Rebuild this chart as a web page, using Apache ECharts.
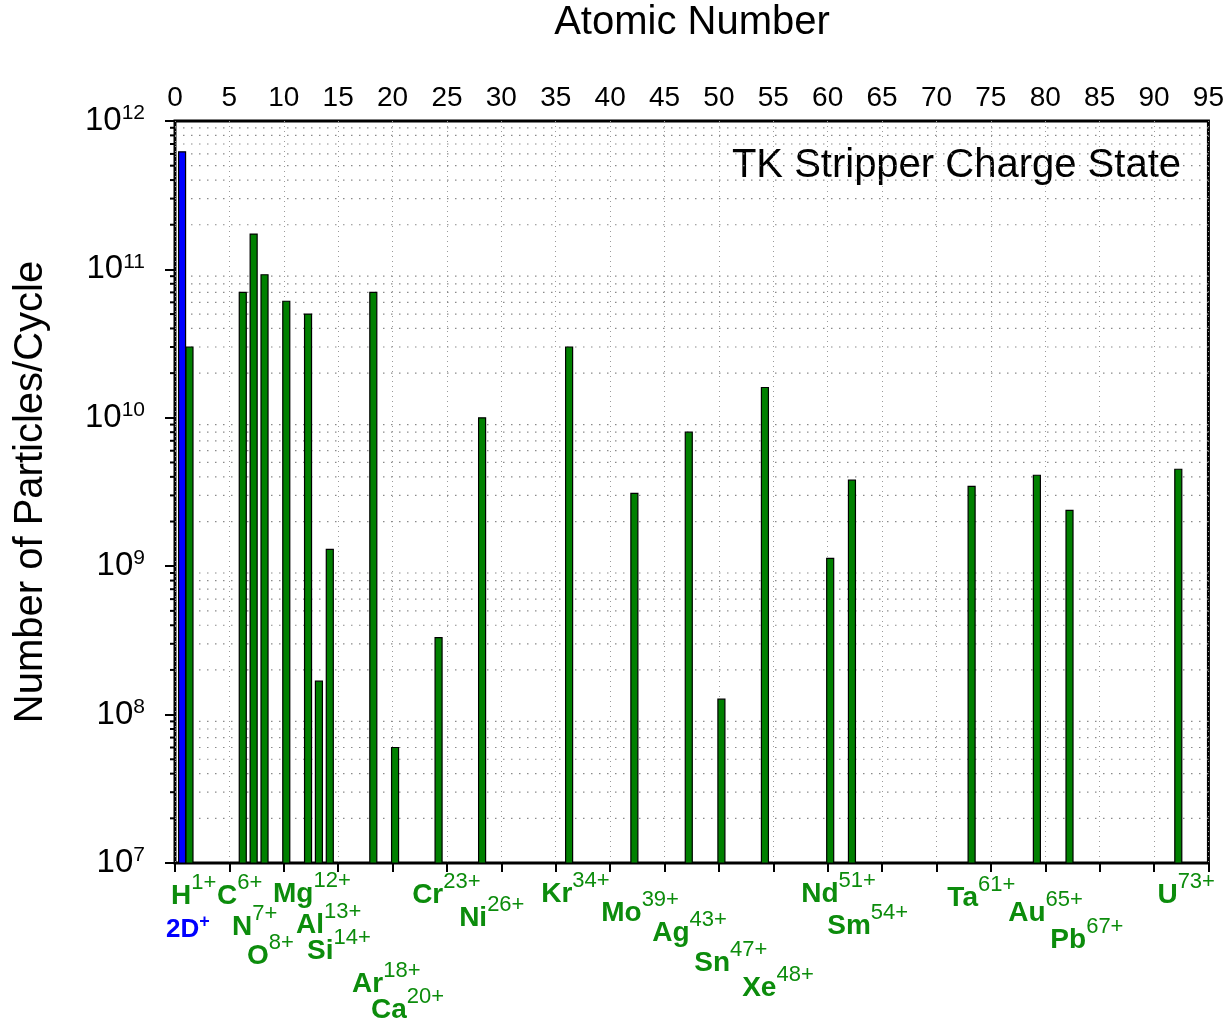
<!DOCTYPE html>
<html>
<head>
<meta charset="utf-8">
<script src="https://cdn.jsdelivr.net/npm/echarts@6/dist/echarts.min.js"></script>
<style>
  html, body { margin: 0; padding: 0; background: #fff; }
  #chart { width: 1227px; height: 1022px; }
</style>
</head>
<body>
<div id="chart"></div>
<script>
// Beam intensities (particles per cycle) after the TK stripper, by atomic number
const deuteronZ = [1];
const deuteronCount = [6.2e11];
const protonZ = [1];
const protonCount = [3.0e10];
const ionZ = [6, 7, 8, 10, 12, 13, 14, 18, 20, 24, 28, 36, 42, 47, 50, 54, 60, 62, 73, 79, 82, 92];
const ionCount = [7.0e10, 1.73e11, 9.2e10, 6.1e10, 5.0e10, 1.68e8, 1.3e9, 7.0e10, 6.0e7, 3.3e8,
                  1.0e10, 3.0e10, 3.1e9, 8.0e9, 1.27e8, 1.6e10, 1.13e9, 3.8e9, 3.45e9, 4.1e9, 2.38e9, 4.5e9];

// Ion species and stripped charge states shown under the axis
const labelSymbols = ['H', '2D', 'C', 'N', 'O', 'Mg', 'Al', 'Si', 'Ar', 'Ca', 'Cr', 'Ni', 'Kr',
                      'Mo', 'Ag', 'Sn', 'Xe', 'Nd', 'Sm', 'Ta', 'Au', 'Pb', 'U'];
const labelCharges = ['1+', '+', '6+', '7+', '8+', '12+', '13+', '14+', '18+', '20+', '23+', '26+', '34+',
                      '39+', '43+', '47+', '48+', '51+', '54+', '61+', '65+', '67+', '73+'];
// Label layout: left edge in atomic-number units, text row in pixels
const labelAnchorZ = [-0.37, -0.83, 3.86, 5.24, 6.62, 9.01, 11.13, 12.14, 16.28, 18.02, 21.8, 26.12, 33.66,
                      39.18, 43.87, 47.73, 52.14, 57.57, 59.96, 71.0, 76.6, 80.47, 90.31];
const labelRowY = [896, 930, 896, 927, 956, 894, 925, 951, 984, 1010, 895, 918, 894,
                   913, 933, 963, 988, 894, 926, 898, 913, 940, 895];

// Axis settings
const zMin = 0, zMax = 95, zStep = 5;
const countMin = 1e7, countMax = 1e12;
const minorCounts = [];
for (let e = 7; e < 12; e++) {
  for (let m = 2; m <= 9; m++) minorCounts.push(m * Math.pow(10, e));
}

const FONT = '"Liberation Sans", Arial, Helvetica, sans-serif';
const GREEN = '#008000';
const LABEL_GREEN = '#0c8c0c';
const BLUE = '#0000ff';

function barRenderer(fill, shiftPx) {
  return function (params, api) {
    const z = api.value(0), n = api.value(1);
    const top = api.coord([z, n]);
    const base = api.coord([z, countMin]);
    return {
      type: 'rect',
      shape: { x: top[0] + shiftPx - 3.5, y: top[1], width: 7, height: base[1] - top[1] },
      style: { fill: fill, stroke: '#000', lineWidth: 1.2 }
    };
  };
}

const chart = echarts.init(document.getElementById('chart'), null, { renderer: 'canvas' });

chart.setOption({
  animation: false,
  backgroundColor: '#fff',
  grid: {
    left: 175, right: 18, top: 121, bottom: 159,
    show: true, borderColor: '#000', borderWidth: 3, backgroundColor: 'transparent'
  },
  xAxis: [
    {
      type: 'value', position: 'bottom', min: zMin, max: zMax, interval: zStep,
      axisLine: { show: false },
      axisTick: { show: true, inside: false, length: 9, lineStyle: { color: '#000', width: 2 } },
      axisLabel: { show: false },
      splitLine: { show: true, lineStyle: { color: '#9a9a9a', width: 1, type: [1, 4] } }
    },
    {
      type: 'value', position: 'top', min: zMin, max: zMax, interval: zStep,
      axisLine: { show: false },
      axisTick: { show: false },
      axisLabel: { show: true, fontFamily: FONT, fontSize: 28, color: '#000', margin: 9 },
      splitLine: { show: false }
    }
  ],
  yAxis: [
    {
      type: 'log', logBase: 10, min: countMin, max: countMax,
      axisLine: { show: false },
      axisTick: { show: true, inside: false, length: 10, lineStyle: { color: '#000', width: 2 } },
      splitLine: { show: false },
      minorTick: { show: false },
      axisLabel: {
        margin: 30,
        formatter: function (v) {
          return '{b|10}{s|' + Math.round(Math.log10(v)) + '}';
        },
        rich: {
          b: { fontFamily: FONT, fontSize: 33, color: '#000', verticalAlign: 'middle' },
          s: { fontFamily: FONT, fontSize: 21, color: '#000', verticalAlign: 'middle', padding: [0, 0, 15, 0] }
        }
      }
    }
  ],
  graphic: [
    {
      type: 'text', x: 692, y: 23,
      style: { text: 'Atomic Number', font: '40px ' + FONT, fill: '#000',
               align: 'center', verticalAlign: 'middle', textAlign: 'center', textVerticalAlign: 'middle' }
    },
    {
      type: 'text', x: 31, y: 492, rotation: Math.PI / 2,
      style: { text: 'Number of Particles/Cycle', font: '40px ' + FONT, fill: '#000',
               align: 'center', verticalAlign: 'middle', textAlign: 'center', textVerticalAlign: 'middle' }
    },
    {
      type: 'text', x: 1181, y: 166,
      style: { text: 'TK Stripper Charge State', font: '40px ' + FONT, fill: '#000',
               align: 'right', verticalAlign: 'middle', textAlign: 'right', textVerticalAlign: 'middle' }
    }
  ],
  series: [
    {
      // dotted minor grid lines and minor ticks of the log axis
      type: 'custom', name: 'minor', coordinateSystem: 'cartesian2d',
      xAxisIndex: 0, yAxisIndex: 0, silent: true, z: 1, clip: false,
      data: minorCounts.map(function (v) { return [zMin, v]; }),
      renderItem: function (params, api) {
        const cs = params.coordSys;
        const y = api.coord([zMin, api.value(1)])[1];
        return {
          type: 'group',
          children: [
            { type: 'line', shape: { x1: cs.x, y1: y, x2: cs.x + cs.width, y2: y },
              style: { stroke: '#8a8a8a', lineWidth: 1.2, lineDash: [1.5, 6.5] } },
            { type: 'line', shape: { x1: cs.x - 5, y1: y, x2: cs.x, y2: y },
              style: { stroke: '#000', lineWidth: 2 } }
          ]
        };
      }
    },
    {
      type: 'custom', name: 'D', coordinateSystem: 'cartesian2d',
      xAxisIndex: 0, yAxisIndex: 0, z: 3,
      data: deuteronZ.map(function (z, i) { return [z, deuteronCount[i]]; }),
      renderItem: barRenderer(BLUE, -3.8)
    },
    {
      type: 'custom', name: 'H', coordinateSystem: 'cartesian2d',
      xAxisIndex: 0, yAxisIndex: 0, z: 3,
      data: protonZ.map(function (z, i) { return [z, protonCount[i]]; }),
      renderItem: barRenderer(GREEN, 3.6)
    },
    {
      type: 'custom', name: 'ions', coordinateSystem: 'cartesian2d',
      xAxisIndex: 0, yAxisIndex: 0, z: 3,
      data: ionZ.map(function (z, i) { return [z, ionCount[i]]; }),
      renderItem: barRenderer(GREEN, 2.5)
    },
    {
      // species labels with charge states, below the axis
      type: 'custom', name: 'labels', coordinateSystem: 'cartesian2d',
      xAxisIndex: 0, yAxisIndex: 0, z: 4, clip: false, silent: true,
      data: labelAnchorZ.map(function (z) { return [z, countMin]; }),
      renderItem: function (params, api) {
        const i = params.dataIndex;
        const x = api.coord([api.value(0), countMin])[0];
        const isD = labelSymbols[i] === '2D';
        const col = isD ? BLUE : LABEL_GREEN;
        const rich = isD ? {
          s: { fontFamily: FONT, fontWeight: 'bold', fontSize: 26, fill: col, color: col, verticalAlign: 'middle' },
          p: { fontFamily: FONT, fontWeight: 'bold', fontSize: 18, fill: col, color: col, verticalAlign: 'middle', padding: [0, 0, 16, 0] }
        } : {
          s: { fontFamily: FONT, fontWeight: 'bold', fontSize: 28, fill: col, color: col, verticalAlign: 'middle' },
          p: { fontFamily: FONT, fontSize: 22, fill: col, color: col, verticalAlign: 'middle', padding: [0, 0, 26, 0] }
        };
        return {
          type: 'text', x: x, y: labelRowY[i],
          style: {
            text: '{s|' + labelSymbols[i] + '}{p|' + labelCharges[i] + '}',
            rich: rich,
            align: 'left', verticalAlign: 'middle', textAlign: 'left', textVerticalAlign: 'middle'
          }
        };
      }
    }
  ]
});
</script>
</body>
</html>
